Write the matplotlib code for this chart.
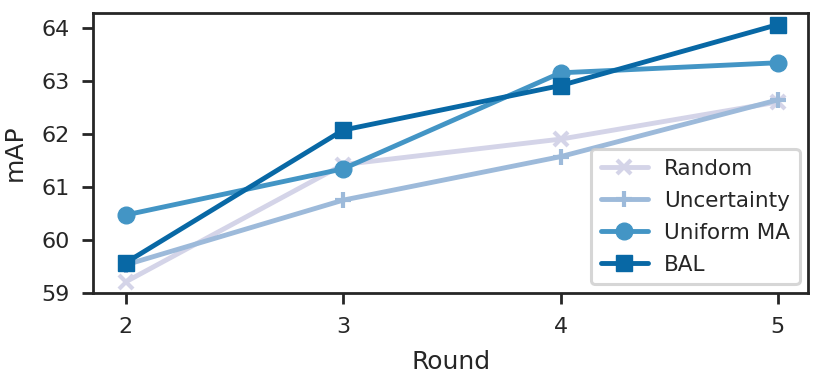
import matplotlib
matplotlib.use("Agg")
import matplotlib.pyplot as plt
import seaborn as sns

rounds = [2, 3, 4, 5]
random_map = [59.21, 61.42, 61.90, 62.60]
uncertainty_map = [59.53, 60.75, 61.57, 62.64]
uniform_ma_map = [60.47, 61.34, 63.15, 63.34]
bal_map = [59.57, 62.07, 62.91, 64.06]

sns.set_style("ticks")
plt.rcParams['font.family'] = ['DejaVu Sans']

colors = ['#d4d4e8', '#9dbada', '#4395c5', '#0868a5']

fig = plt.figure(figsize=(8.24, 3.79), dpi=100)
ax = fig.add_axes([0.113, 0.227, 0.868, 0.739])

ax.plot(rounds, random_map, color=colors[0], lw=3.5, marker='x', ms=10, mew=3, label='Random')
ax.plot(rounds, uncertainty_map, color=colors[1], lw=3.5, marker='+', ms=12, mew=3, label='Uncertainty')
ax.plot(rounds, uniform_ma_map, color=colors[2], lw=3.5, marker='o', ms=12, label='Uniform MA')
ax.plot(rounds, bal_map, color=colors[3], lw=3.5, marker='s', ms=12, label='BAL')

ax.set_xlim(1.85, 5.14)
ax.set_ylim(59, 64.28)
ax.set_xticks(rounds)
ax.set_yticks([59, 60, 61, 62, 63, 64])
ax.tick_params(labelsize=16, width=2, length=8, color='#262626', pad=9)
for s in ax.spines.values():
    s.set_linewidth(2)
    s.set_color('#262626')

ax.set_xlabel('Round', fontsize=18, labelpad=10)
ax.set_ylabel('mAP', fontsize=18, labelpad=10)

leg = ax.legend(loc='lower right', fontsize=15.5, frameon=True, handlelength=2.2,
                borderpad=0.45, labelspacing=0.56, handletextpad=0.75,
                fancybox=True, edgecolor='#cccccc', borderaxespad=0.4)
leg.get_frame().set_linewidth(2.2)

plt.savefig('out.png', dpi=100)
plt.close()
